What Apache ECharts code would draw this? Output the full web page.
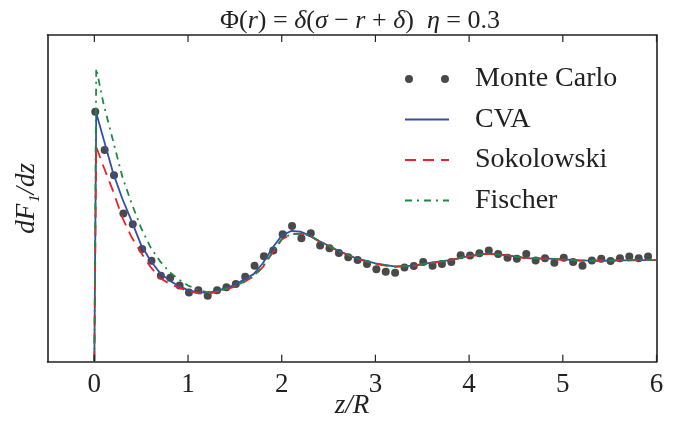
<!DOCTYPE html>
<html>
<head>
<meta charset="utf-8">
<script src="https://cdn.jsdelivr.net/npm/echarts@6/dist/echarts.min.js"></script>
<style>
  html, body { margin: 0; padding: 0; background: #fff; }
  #chart { width: 680px; height: 423px; }
</style>
</head>
<body>
<div id="chart"></div>
<script>
// tick positions on z/R
const tickValues = [0, 1, 2, 3, 4, 5, 6];

// Monte Carlo points
const mcZ = [
    0.01, 0.11, 0.21, 0.31, 0.41, 0.51, 0.61, 0.71, 0.81, 0.91,
    1.01, 1.11, 1.21, 1.31, 1.41, 1.51, 1.61, 1.71, 1.81, 1.91,
    2.01, 2.11, 2.21, 2.31, 2.41, 2.51, 2.61, 2.71, 2.81, 2.91,
    3.01, 3.11, 3.21, 3.31, 3.41, 3.51, 3.61, 3.71, 3.81, 3.91,
    4.01, 4.11, 4.21, 4.31, 4.41, 4.51, 4.61, 4.71, 4.81, 4.91,
    5.01, 5.11, 5.21, 5.31, 5.41, 5.51, 5.61, 5.71, 5.81, 5.91
];
const mcVal = [
    0.765, 0.648, 0.571, 0.454, 0.421, 0.345, 0.309, 0.263, 0.257, 0.233,
    0.212, 0.219, 0.202, 0.219, 0.228, 0.238, 0.260, 0.294, 0.323, 0.340,
    0.390, 0.415, 0.378, 0.393, 0.356, 0.347, 0.333, 0.320, 0.311, 0.299,
    0.283, 0.275, 0.272, 0.288, 0.293, 0.305, 0.294, 0.299, 0.305, 0.326,
    0.325, 0.332, 0.340, 0.330, 0.318, 0.315, 0.330, 0.310, 0.317, 0.303,
    0.318, 0.305, 0.294, 0.310, 0.315, 0.308, 0.317, 0.322, 0.317, 0.322
];

// theory curves, all on the same z grid
const curveZ = [
    0, 0.02, 0.1, 0.2, 0.3, 0.4, 0.5, 0.6, 0.7, 0.8, 0.9, 1.0,
    1.1, 1.2, 1.3, 1.4, 1.5, 1.6, 1.7, 1.8, 1.9, 2.0,
    2.1, 2.2, 2.3, 2.4, 2.5, 2.6, 2.8, 3.0, 3.2, 3.4, 3.6, 3.8,
    4.0, 4.2, 4.4, 4.6, 4.8, 5.0, 5.2, 5.4, 5.6, 5.8, 6.0
];
const cvaVal = [
    0, 0.762, 0.680, 0.578, 0.498, 0.429, 0.357, 0.309, 0.272, 0.249, 0.232, 0.219,
    0.213, 0.211, 0.216, 0.225, 0.235, 0.252, 0.268, 0.302, 0.348, 0.386,
    0.400, 0.398, 0.386, 0.369, 0.355, 0.340, 0.316, 0.301, 0.292, 0.294, 0.303, 0.311,
    0.324, 0.331, 0.326, 0.317, 0.316, 0.313, 0.310, 0.309, 0.310, 0.311, 0.311
];
const sokolowskiVal = [
    0, 0.658, 0.596, 0.522, 0.440, 0.380, 0.333, 0.290, 0.256, 0.239, 0.227, 0.216,
    0.210, 0.207, 0.213, 0.221, 0.230, 0.244, 0.261, 0.290, 0.333, 0.374,
    0.390, 0.392, 0.385, 0.368, 0.354, 0.339, 0.315, 0.299, 0.290, 0.293, 0.302, 0.311,
    0.323, 0.330, 0.326, 0.317, 0.315, 0.312, 0.309, 0.309, 0.310, 0.311, 0.311
];
const fischerVal = [
    0, 0.898, 0.787, 0.676, 0.565, 0.483, 0.409, 0.350, 0.308, 0.275, 0.252, 0.233,
    0.221, 0.213, 0.215, 0.222, 0.231, 0.245, 0.262, 0.292, 0.335, 0.375,
    0.390, 0.392, 0.386, 0.369, 0.355, 0.340, 0.316, 0.300, 0.291, 0.294, 0.303, 0.311,
    0.324, 0.331, 0.326, 0.317, 0.316, 0.313, 0.310, 0.309, 0.310, 0.311, 0.311
];

const serif = "'Liberation Serif', 'DejaVu Serif', serif";
const ink = '#222';
const tickLen = 7;
const zip = (xs, ys) => xs.map((x, i) => [x, ys[i]]);

// z/R axis; the auto tick at -0.5 sits on the left spine with its label hidden
const zAxis = (position, opts) => Object.assign({
    type: 'value',
    position: position,
    min: -0.5,
    max: 6,
    splitNumber: 7,
    axisLine: { show: true, onZero: false, lineStyle: { color: ink, width: 1.6 } },
    axisTick: { show: false },
    axisLabel: { show: false },
    splitLine: { show: false }
}, opts);

const bottomAxis = zAxis('bottom', {
    name: 'z/R',
    nameLocation: 'middle',
    nameGap: 31,
    nameMoveOverlap: false,
    nameTextStyle: { fontFamily: serif, fontSize: 27, fontStyle: 'italic', color: ink },
    axisLabel: { show: true, showMinLabel: false, margin: 10,
        fontFamily: serif, fontSize: 27, color: ink }
});

const lineSeries = (name, vals, color, dash) => ({
    name: name,
    type: 'line',
    data: zip(curveZ, vals),
    symbol: 'none',
    showSymbol: false,
    smooth: false,
    lineStyle: { color: color, width: 1.8, type: dash },
    itemStyle: { color: color }
});

// inward ticks on the bottom and top spines, placed through the axis scales
const tickSeries = {
    type: 'custom',
    silent: true,
    clip: false,
    z: 5,
    data: tickValues.map(v => [v, 0]),
    encode: { x: 0, y: 1 },
    renderItem: (params, api) => {
        const bottom = api.coord([api.value(0), 0]);
        const top = api.coord([api.value(0), 1]);
        const style = { stroke: ink, lineWidth: 1.2 };
        return {
            type: 'group',
            children: [
                { type: 'line', shape: { x1: bottom[0], y1: bottom[1], x2: bottom[0], y2: bottom[1] - tickLen }, style: style },
                { type: 'line', shape: { x1: top[0], y1: top[1], x2: top[0], y2: top[1] + tickLen }, style: style }
            ]
        };
    }
};

const chart = echarts.init(document.getElementById('chart'));
chart.setOption({
    animation: false,
    backgroundColor: '#fff',
    title: {
        text: '{u|Φ(}{i|r}{u|) = }{i|δ}{u|(}{i|σ}{u| − }{i|r}{u| + }{i|δ}{u|)  }{i|η}{u| = 0.3}',
        left: 355,
        textAlign: 'center',
        top: 3,
        textStyle: {
            rich: {
                u: { fontFamily: serif, fontSize: 26, color: ink, fontWeight: 'normal' },
                i: { fontFamily: serif, fontSize: 26, color: ink, fontWeight: 'normal', fontStyle: 'italic' }
            }
        }
    },
    legend: {
        orient: 'vertical',
        left: 399,
        top: 59,
        itemWidth: 44,
        itemHeight: 8,
        itemGap: 10.5,
        textStyle: { fontFamily: serif, fontSize: 28, lineHeight: 30, color: ink,
            padding: [0, 0, 0, 21] },
        data: [
            { name: 'Monte Carlo',
              icon: 'path://M0,4a4,4 0 1,0 8,0a4,4 0 1,0 -8,0zM36,4a4,4 0 1,0 8,0a4,4 0 1,0 -8,0z' },
            { name: 'CVA', itemStyle: { opacity: 0 } },
            { name: 'Sokolowski', itemStyle: { opacity: 0 } },
            { name: 'Fischer', itemStyle: { opacity: 0 } }
        ]
    },
    grid: { left: 47.5, right: 23.5, top: 35, bottom: 61.3, outerBoundsMode: 'none' },
    xAxis: [bottomAxis, zAxis('top')],
    yAxis: [
        {
            type: 'value', position: 'left', min: 0, max: 1,
            name: 'dF₁/dz', nameLocation: 'middle', nameGap: 7, nameRotate: 90,
            nameMoveOverlap: false,
            nameTextStyle: { fontFamily: serif, fontSize: 27, fontStyle: 'italic', color: ink },
            axisLine: { show: true, onZero: false, lineStyle: { color: ink, width: 1.6 } },
            axisTick: { show: false }, axisLabel: { show: false }, splitLine: { show: false }
        },
        {
            type: 'value', position: 'right', min: 0, max: 1,
            axisLine: { show: true, onZero: false, lineStyle: { color: ink, width: 1.6 } },
            axisTick: { show: false }, axisLabel: { show: false }, splitLine: { show: false }
        }
    ],
    series: [
        {
            name: 'Monte Carlo',
            type: 'scatter',
            data: zip(mcZ, mcVal),
            symbol: 'circle',
            symbolSize: 8,
            itemStyle: { color: '#1c1c1c' }
        },
        lineSeries('CVA', cvaVal, '#3450a4', 'solid'),
        lineSeries('Sokolowski', sokolowskiVal, '#e8232a', [11, 7]),
        lineSeries('Fischer', fischerVal, '#1b8a43', [7, 5, 2, 5]),
        tickSeries
    ]
});
</script>
</body>
</html>
